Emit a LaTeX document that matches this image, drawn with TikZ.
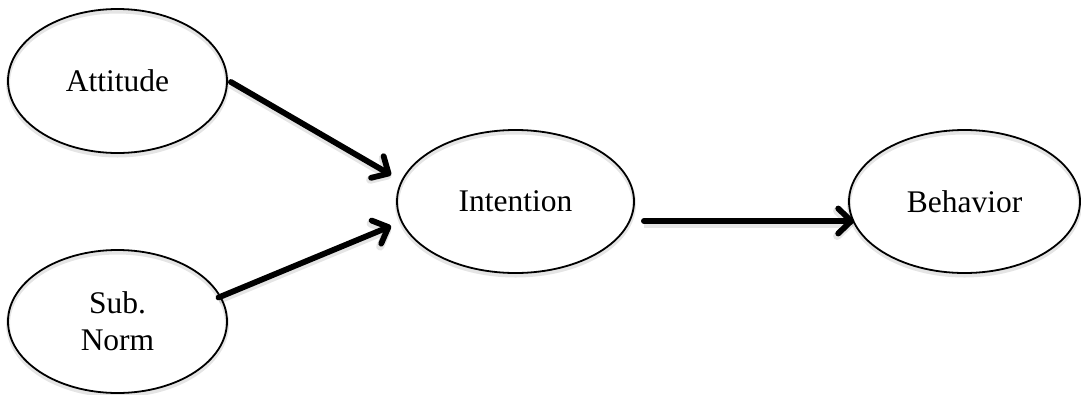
\documentclass[tikz,border=0pt]{standalone}
\usepackage{fontspec}
\setmainfont{Liberation Serif}
\usetikzlibrary{shapes.geometric,arrows.meta,calc}
\begin{document}
\begin{tikzpicture}[x=1pt,y=-1pt,
  construct/.style={draw=black, line width=1.8pt, ellipse, inner sep=0pt,
    font=\fontsize{31.5}{37}\selectfont, align=center,
    preaction={draw=black, draw opacity=0.10, line width=4pt, transform canvas={yshift=-2.5pt}}},
  link/.style={line width=5.8pt, line cap=round,
    -{Straight Barb[length=13pt,width=25pt,line cap=round,round]},
    preaction={draw=black, draw opacity=0.10, line width=8pt, transform canvas={yshift=-2.5pt}}}]
\useasboundingbox (0,0) rectangle (1081,394);
\node[construct, minimum width=219pt, minimum height=144pt] (att) at (117.5,81) {Attitude};
\node[construct, minimum width=219pt, minimum height=143pt] (sub) at (117.5,321.5) {Sub.\\Norm};
\node[construct, minimum width=237pt, minimum height=143pt] (int) at (515.5,201.5) {Intention};
\node[construct, minimum width=231pt, minimum height=143pt] (beh) at (964.5,201.5) {Behavior};
\draw[link] ($(att.east)+(3,1)$) -- ($(int.west)+(-5,-26.5)$);
\draw[link] ($(sub.center)+(101,-24)$) -- ($(int.west)+(-5,24.5)$);
\draw[link] ($(int.east)+(9,19.5)$) -- ($(beh.west)+(6,19.5)$);
\end{tikzpicture}
\end{document}
